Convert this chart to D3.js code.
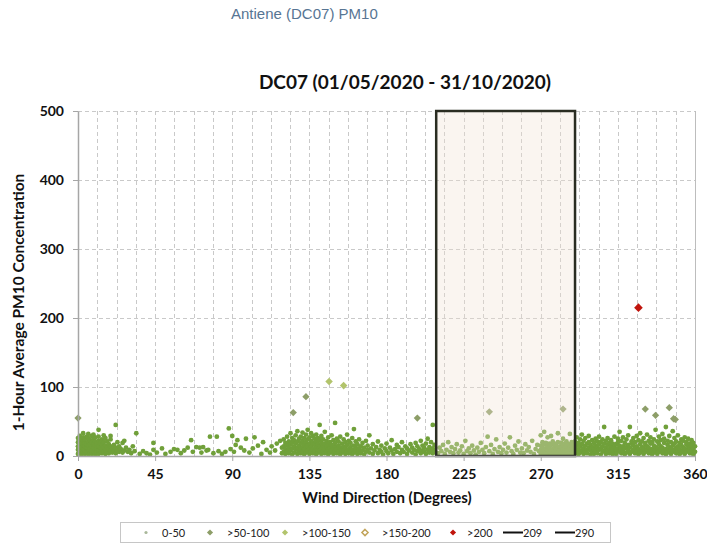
<!DOCTYPE html>
<html lang="en">
<head>
<meta charset="UTF-8">
<title>Antiene (DC07) PM10</title>
<script src="https://cdnjs.cloudflare.com/ajax/libs/d3/7.8.5/d3.min.js"></script>
<style>
  body { margin: 0; background: #fff; }
  svg { display: block; }
</style>
</head>
<body>
<svg id="chart" width="707" height="548"></svg>
<script>
// wind direction (deg), 1-hour PM10 concentration
const north0to35 = [[0,3],[0,9],[0,14],[0,20],[0,26],[1,6],[1,11],[1,17],[1,23],[1,29],[2,2],[2,8],[2,13],[2,19],[2,25],[3,5],[3,10],[3,16],[3,22],[3,27],[4,3],[4,8],[4,14],[4,19],[4,24],[5,6],[5,12],[5,17],[5,28],[6,2],[6,9],[6,15],[6,21],[6,26],[7,5],[7,11],[7,18],[7,23],[8,3],[8,8],[8,14],[8,20],[8,29],[9,6],[9,12],[9,17],[9,24],[10,2],[10,9],[10,15],[10,21],[10,27],[11,5],[11,11],[11,18],[12,3],[12,8],[12,14],[12,22],[12,28],[13,6],[13,12],[13,19],[14,4],[14,10],[14,16],[14,24],[15,7],[15,13],[15,20],[16,3],[16,9],[16,15],[16,26],[17,6],[17,12],[17,21],[18,4],[18,10],[18,17],[19,7],[19,14],[19,24],[20,5],[20,11],[21,8],[21,16],[22,4],[22,12],[23,9],[23,20],[24,6],[24,14],[25,10],[26,5],[26,19],[27,8],[27,22],[28,12],[29,6],[30,9],[31,4],[32,14],[33,7],[34,33],[22,45],[12,38],[6,32],[3,33],[9,31],[15,30],[19,29]];
const east35to120 = [[36,3],[38,7],[40,4],[42,2],[44,19],[44,9],[46,5],[49,11],[51,3],[54,6],[56,10],[58,9],[60,4],[62,8],[64,12],[66,23],[67,6],[69,13],[71,12],[72,5],[73,13],[75,8],[76,9],[77,28],[79,4],[81,28],[82,7],[84,3],[86,6],[88,40],[89,10],[90,29],[91,6],[92,16],[93,23],[95,12],[97,8],[98,25],[100,5],[102,11],[103,27],[105,15],[107,3],[108,20],[110,9],[112,5],[113,14],[115,8],[116,18],[118,22],[119,4],[119,12]];
const southEast120to170 = [[120,6],[120,14],[120,24],[121,3],[121,10],[121,19],[122,7],[122,16],[122,28],[123,4],[123,12],[123,21],[124,8],[124,17],[124,33],[125,2],[125,11],[125,20],[125,26],[126,5],[126,14],[126,23],[127,9],[127,18],[127,30],[128,3],[128,12],[128,21],[128,36],[129,7],[129,15],[129,25],[130,4],[130,10],[130,19],[130,28],[131,6],[131,13],[131,22],[131,34],[132,2],[132,9],[132,17],[132,26],[133,5],[133,12],[133,20],[133,31],[134,8],[134,15],[134,24],[134,38],[135,3],[135,11],[135,18],[135,27],[136,6],[136,14],[136,22],[136,33],[137,4],[137,10],[137,19],[137,29],[138,7],[138,16],[138,25],[139,2],[139,12],[139,21],[139,31],[140,5],[140,9],[140,17],[140,26],[141,8],[141,14],[141,23],[141,45],[142,3],[142,11],[142,19],[142,29],[143,6],[143,15],[143,24],[144,4],[144,10],[144,18],[144,35],[145,7],[145,13],[145,22],[146,2],[146,9],[146,17],[146,27],[147,5],[147,12],[147,20],[148,8],[148,16],[148,30],[149,3],[149,11],[149,23],[150,6],[150,14],[150,48],[150,19],[151,4],[151,10],[151,25],[152,7],[152,15],[152,21],[153,2],[153,12],[153,28],[154,5],[154,9],[154,18],[155,8],[155,14],[155,24],[156,3],[156,11],[156,20],[157,6],[157,16],[157,31],[158,4],[158,10],[158,22],[159,7],[159,13],[159,19],[160,2],[160,9],[160,26],[161,5],[161,15],[161,39],[162,8],[162,12],[162,21],[163,3],[163,17],[164,6],[164,11],[164,24],[165,4],[165,14],[166,8],[166,19],[167,2],[167,12],[168,6],[168,22],[169,9],[169,15],[170,30]];
const south170to209 = [[170,5],[171,11],[172,3],[172,17],[173,8],[174,13],[175,4],[175,21],[176,9],[177,6],[177,15],[178,2],[179,11],[180,7],[180,18],[181,4],[182,12],[183,8],[183,23],[184,3],[185,10],[186,6],[186,16],[187,13],[188,4],[189,9],[189,20],[190,6],[191,14],[192,3],[192,11],[193,8],[194,17],[195,5],[195,12],[196,9],[197,2],[197,19],[198,7],[198,14],[199,10],[200,4],[200,22],[201,8],[201,15],[202,6],[202,12],[203,3],[203,18],[204,9],[204,25],[205,5],[205,13],[206,8],[206,20],[207,45],[207,4],[207,11],[208,7],[208,16]];
const sector209to270 = [[210,4],[211,12],[212,7],[213,16],[214,3],[215,9],[216,20],[217,6],[218,13],[219,4],[220,10],[221,17],[222,5],[223,8],[224,14],[225,3],[226,22],[227,7],[228,11],[229,4],[230,15],[231,8],[232,2],[233,12],[234,6],[235,19],[236,9],[237,4],[238,13],[239,28],[240,7],[241,16],[242,3],[243,10],[244,24],[245,6],[246,13],[247,4],[248,9],[249,18],[250,5],[251,12],[252,27],[253,7],[254,3],[255,15],[256,9],[257,21],[258,5],[259,11],[260,4],[261,17],[262,8],[263,13],[264,6],[265,22],[266,3],[267,10],[268,16],[269,7]];
const sector270to290 = [[270,3],[270,9],[270,15],[270,30],[271,6],[271,12],[271,20],[272,2],[272,8],[272,17],[272,35],[273,5],[273,11],[273,19],[274,3],[274,9],[274,14],[274,27],[275,6],[275,12],[275,18],[276,2],[276,8],[276,16],[277,4],[277,10],[277,21],[278,6],[278,13],[278,18],[279,3],[279,9],[279,15],[280,5],[280,11],[280,20],[281,2],[281,8],[281,14],[282,6],[282,12],[282,19],[283,3],[283,9],[283,16],[283,25],[284,5],[284,11],[284,18],[285,2],[285,8],[285,14],[285,21],[286,4],[286,10],[286,17],[287,6],[287,12],[287,32],[288,3],[288,9],[288,15],[288,20],[289,5],[289,11],[289,18],[280,33],[276,29]];
const northWest290to360 = [[290,4],[290,12],[290,21],[291,7],[291,16],[291,27],[292,2],[292,10],[292,19],[293,5],[293,14],[293,24],[294,8],[294,17],[294,31],[295,3],[295,11],[295,22],[296,6],[296,15],[296,26],[297,9],[297,18],[297,4],[298,12],[298,20],[298,29],[299,2],[299,8],[299,16],[300,5],[300,13],[300,23],[301,10],[301,19],[301,3],[302,7],[302,15],[302,25],[303,4],[303,12],[303,21],[304,9],[304,17],[304,28],[305,2],[305,11],[305,20],[306,6],[306,14],[306,24],[307,8],[307,18],[307,42],[308,3],[308,12],[308,22],[309,7],[309,16],[309,26],[310,4],[310,10],[310,19],[311,6],[311,14],[311,23],[312,2],[312,9],[312,18],[313,5],[313,13],[313,28],[314,8],[314,17],[314,3],[315,11],[315,20],[315,25],[316,6],[316,15],[316,35],[317,4],[317,10],[317,22],[318,7],[318,14],[318,27],[319,2],[319,11],[319,19],[320,5],[320,13],[320,24],[321,8],[321,16],[321,30],[322,3],[322,12],[322,42],[323,6],[323,18],[323,21],[324,9],[324,15],[324,26],[325,4],[325,11],[325,20],[326,7],[326,14],[326,29],[327,2],[327,10],[327,23],[328,5],[328,17],[328,33],[329,8],[329,13],[329,21],[330,3],[330,11],[330,26],[331,6],[331,16],[331,19],[332,9],[332,14],[332,31],[333,4],[333,12],[333,22],[334,7],[334,18],[334,27],[335,2],[335,10],[335,20],[336,5],[336,15],[336,24],[337,8],[337,13],[337,38],[338,3],[338,11],[338,21],[339,6],[339,17],[339,28],[340,9],[340,14],[340,23],[341,4],[341,12],[341,32],[342,7],[342,19],[342,25],[343,2],[343,10],[343,42],[344,5],[344,16],[344,22],[345,8],[345,13],[345,29],[346,3],[346,11],[346,20],[347,6],[347,15],[347,36],[348,9],[348,18],[348,26],[349,4],[349,12],[349,21],[350,7],[350,14],[350,30],[351,2],[351,10],[351,19],[352,5],[352,16],[352,24],[353,8],[353,13],[353,22],[354,3],[354,11],[354,27],[355,6],[355,17],[355,20],[356,9],[356,14],[356,25],[357,4],[357,12],[357,18],[358,7],[358,15],[358,23],[359,2],[359,10],[359,19],[360,6],[360,14]];
// the few hours above 50
const highHours = [[0,55],[125.6,63],[133,86],[146.5,108],[155,102],[198,55],[240,64],[283,68],[327,215],[331,68],[337,59],[345,70],[347.5,54],[348.5,53]];

// wind sector bounds drawn as the shaded box
const sectorFrom = 209, sectorTo = 290;

const xTicks = [0, 45, 90, 135, 180, 225, 270, 315, 360];
const yTicks = [0, 100, 200, 300, 400, 500];
const legendLabels = ["0-50", ">50-100", ">100-150", ">150-200", ">200", "209", "290"];

// concentration bands -> marker style
const bands = [
  {max: 50,  shape: "circle",  color: "#70a03a", size: 0},
  {max: 100, shape: "diamond", color: "#8d9e68", size: 34},
  {max: 150, shape: "diamond", color: "#b2c46c", size: 36},
  {max: 200, shape: "diamond", color: "#c2a45a", size: 36},
  {max: Infinity, shape: "diamond", color: "#c0140c", size: 48}
];
const bandOf = v => bands.find(b => v <= b.max);

const svg = d3.select("#chart");
const plotL = 78, plotR = 695, plotT = 111, plotB = 456;

const x = d3.scaleLinear().domain([0, 360]).range([plotL, plotR]);
const y = d3.scaleLinear().domain([0, 500]).range([plotB, plotT]);

// page heading
svg.append("text")
  .attr("x", 231).attr("y", 19)
  .attr("font-family", "Liberation Sans, Arial, sans-serif")
  .attr("font-size", 15)
  .attr("fill", "#577593")
  .text("Antiene (DC07) PM10");

// chart title
svg.append("text")
  .attr("x", 405).attr("y", 89)
  .attr("text-anchor", "middle")
  .attr("font-family", "Lato, sans-serif")
  .attr("font-weight", "bold")
  .attr("font-size", 19)
  .attr("fill", "#111")
  .text("DC07 (01/05/2020 - 31/10/2020)");

// grid
const grid = svg.append("g").attr("stroke", "#c9c9c9").attr("stroke-width", 1).attr("stroke-dasharray", "4,3");
grid.selectAll("line.v")
  .data(d3.range(11.25, 360, 11.25))
  .enter().append("line")
  .attr("x1", d => Math.round(x(d)) + 0.5).attr("x2", d => Math.round(x(d)) + 0.5)
  .attr("y1", plotT).attr("y2", plotB);
grid.selectAll("line.h")
  .data(yTicks.slice(1))
  .enter().append("line")
  .attr("x1", plotL).attr("x2", plotR)
  .attr("y1", d => Math.round(y(d)) + 0.5).attr("y2", d => Math.round(y(d)) + 0.5);

// right frame edge
svg.append("line")
  .attr("x1", plotR + 0.5).attr("x2", plotR + 0.5)
  .attr("y1", plotT).attr("y2", plotB)
  .attr("stroke", "#bdbdbd");

// points
const allPoints = [].concat(north0to35, east35to120, southEast120to170, south170to209,
  sector209to270, sector270to290, northWest290to360, highHours);

const diamondType = d3.symbolDiamond2 || d3.symbolDiamond;

svg.append("g").selectAll("circle")
  .data(allPoints.filter(p => bandOf(p[1]).shape === "circle"))
  .enter().append("circle")
  .attr("cx", d => x(d[0])).attr("cy", d => y(d[1]))
  .attr("r", 2.4)
  .attr("fill", d => bandOf(d[1]).color);

svg.append("g").selectAll("path")
  .data(allPoints.filter(p => bandOf(p[1]).shape === "diamond"))
  .enter().append("path")
  .attr("transform", d => `translate(${x(d[0])},${y(d[1])})`)
  .attr("d", d => d3.symbol().type(diamondType).size(bandOf(d[1]).size)())
  .attr("fill", d => bandOf(d[1]).color);

// shaded sector 209-290, laid over the points
svg.append("rect")
  .attr("x", x(sectorFrom)).attr("y", y(500))
  .attr("width", x(sectorTo) - x(sectorFrom))
  .attr("height", y(0) - y(500))
  .attr("fill", "#efe2d4")
  .attr("fill-opacity", 0.34)
  .attr("stroke", "#2a2d22")
  .attr("stroke-width", 2.5);

// axes
const axisFont = g => g.selectAll("text")
  .attr("font-family", "Lato, sans-serif")
  .attr("font-weight", "bold")
  .attr("font-size", 14)
  .attr("fill", "#111");

const xAxis = svg.append("g")
  .attr("transform", `translate(0,${plotB})`)
  .call(d3.axisBottom(x).tickValues(xTicks).tickSize(5).tickPadding(8).tickSizeOuter(0));
xAxis.select(".domain").attr("stroke", "#a6a6a6").attr("stroke-width", 1.5);
xAxis.selectAll(".tick line").attr("stroke", "#a6a6a6");
axisFont(xAxis);

const yAxis = svg.append("g")
  .attr("transform", `translate(${plotL},0)`)
  .call(d3.axisLeft(y).tickValues(yTicks).tickSize(5).tickPadding(9).tickSizeOuter(0));
yAxis.select(".domain").attr("stroke", "#a6a6a6").attr("stroke-width", 1.5);
yAxis.selectAll(".tick line").attr("stroke", "#a6a6a6");
axisFont(yAxis);

// axis titles
svg.append("text")
  .attr("x", 387).attr("y", 503)
  .attr("text-anchor", "middle")
  .attr("font-family", "Lato, sans-serif")
  .attr("font-weight", "bold")
  .attr("font-size", 15)
  .attr("fill", "#111")
  .text("Wind Direction (Degrees)");

svg.append("text")
  .attr("transform", `translate(24,${(plotT + plotB) / 2 + 19}) rotate(-90)`)
  .attr("text-anchor", "middle")
  .attr("font-family", "Lato, sans-serif")
  .attr("font-weight", "bold")
  .attr("font-size", 15.5)
  .attr("fill", "#111")
  .text("1-Hour Average PM10 Concentration");

// legend
const legend = svg.append("g");
legend.append("rect")
  .attr("x", 120.5).attr("y", 522.5).attr("width", 490).attr("height", 20)
  .attr("fill", "#fff").attr("stroke", "#c6c6c6");

const legendMarkX = [146, 210, 285, 365, 453];
const legendTextX = [162, 227, 302, 382, 467, 523, 575];
const legendLineX = [[503, 523], [555, 575]];
const legendY = 532.5;

legend.selectAll("circle.mark")
  .data([bands[0]])
  .enter().append("circle")
  .attr("cx", legendMarkX[0]).attr("cy", legendY).attr("r", 1.6)
  .attr("fill", "#a9b89a");

legend.selectAll("path.mark")
  .data(bands.slice(1))
  .enter().append("path")
  .attr("transform", (d, i) => `translate(${legendMarkX[i + 1]},${legendY})`)
  .attr("d", d3.symbol().type(diamondType).size(24))
  .attr("fill", (d, i) => i === 2 ? "#fff" : d.color)
  .attr("stroke", (d, i) => i === 2 ? d.color : "none")
  .attr("stroke-width", 1.5);

legend.selectAll("line.mark")
  .data(legendLineX)
  .enter().append("line")
  .attr("x1", d => d[0]).attr("x2", d => d[1])
  .attr("y1", legendY).attr("y2", legendY)
  .attr("stroke", "#111").attr("stroke-width", 2);

legend.selectAll("text")
  .data(legendLabels)
  .enter().append("text")
  .attr("x", (d, i) => legendTextX[i]).attr("y", legendY + 4)
  .attr("font-family", "Lato, sans-serif")
  .attr("font-size", 11)
  .attr("fill", "#222")
  .text(d => d);
</script>
</body>
</html>
